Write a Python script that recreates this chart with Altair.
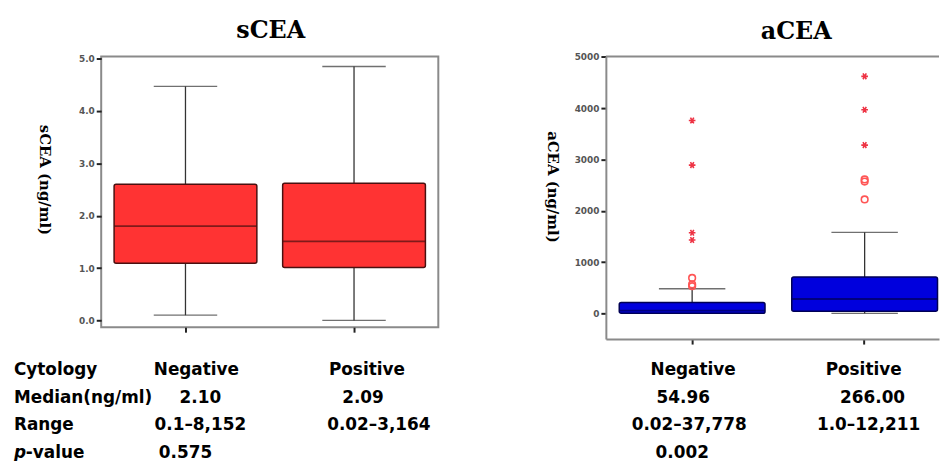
import altair as alt
import pandas as pd

# ---------------- data ----------------
cats = ["Negative", "Positive"]

# sCEA box statistics (ng/ml)
s_lo = [0.10, 0.00]
s_q1 = [1.09, 1.01]
s_med = [1.80, 1.51]
s_q3 = [2.60, 2.62]
s_hi = [4.47, 4.85]

# aCEA box statistics (ng/ml)
a_lo = [0, 0]
a_q1 = [0, 40]
a_med = [55, 280]
a_q3 = [210, 710]
a_hi = [480, 1580]

# aCEA outliers
a_circle_cat = ["Negative", "Negative", "Negative", "Positive", "Positive", "Positive"]
a_circle_val = [690, 565, 530, 2610, 2570, 2220]
a_star_cat = ["Negative", "Negative", "Negative", "Negative", "Positive", "Positive", "Positive"]
a_star_val = [3760, 2890, 1570, 1430, 4620, 3970, 3280]

# table texts
row_labels = ["Cytology", "Median(ng/ml)", "Range", "p", "-value"]
s_median_txt = ["2.10", "2.09"]
s_range_txt = ["0.1\u20138,152", "0.02\u20133,164"]
s_p_txt = "0.575"
a_median_txt = ["54.96", "266.00"]
a_range_txt = ["0.02\u201337,778", "1.0\u201312,211"]
a_p_txt = "0.002"

s_ticks = [0, 1, 2, 3, 4, 5]
a_ticks = [0, 1000, 2000, 3000, 4000, 5000]

TFONT = "DejaVu Sans"
TSIZE = 17


def cell(x_enc, txt, cat, y_px, dx=0, align="center", italic=False):
    df = pd.DataFrame({"cat": [cat], "t": [txt]})
    kw = dict(font=TFONT, fontSize=TSIZE, fontWeight="bold", align=align,
              baseline="middle", dx=dx, color="black")
    if italic:
        kw["fontStyle"] = "italic"
    return alt.Chart(df).mark_text(**kw).encode(x=x_enc, y=alt.value(y_px), text="t:N")


def panel(title, title_x, title_dy, ytitle, ytitle_x, ytitle_y, lo, q1, med, q3, hi,
          fill, edge, ydomain, yticks, yfmt, xscale, band, cap, frame_full):
    df = pd.DataFrame(dict(cat=cats, lo=lo, q1=q1, med=med, q3=q3, hi=hi))
    base = alt.Chart(df)
    xaxis = alt.Axis(labels=False, title=None, ticks=True, tickSize=5,
                     tickColor="#222", tickWidth=2, grid=False,
                     domain=not frame_full, domainColor="#8a8a8a", domainWidth=2)
    x = alt.X("cat:N", scale=xscale, axis=xaxis)
    yscale = alt.Scale(domain=ydomain, nice=False, zero=False)
    yaxis = alt.Axis(values=yticks, format=yfmt, title=ytitle, titleAngle=90,
                     titleFont="DejaVu Serif", titleFontSize=15, titleFontWeight="bold",
                     titleColor="black", titleX=ytitle_x, titleY=ytitle_y,
                     titleAlign="center", titleBaseline="middle",
                     labelFont="DejaVu Sans", labelFontSize=9, labelFontWeight="bold",
                     labelColor="#555", labelPadding=2, tickSize=5, tickColor="#222",
                     tickWidth=2, grid=False, domain=not frame_full,
                     domainColor="#8a8a8a", domainWidth=2)
    whisk = base.mark_rule(color="#333", strokeWidth=1.3).encode(
        x=x, y=alt.Y("lo:Q", scale=yscale, axis=yaxis), y2="hi:Q")
    caps_lo = base.mark_tick(color="#333", thickness=1.3, size=cap).encode(
        x=x, y=alt.Y("lo:Q", scale=yscale, axis=yaxis))
    caps_hi = base.mark_tick(color="#333", thickness=1.3, size=cap).encode(
        x=x, y=alt.Y("hi:Q", scale=yscale, axis=yaxis))
    box = base.mark_bar(color=fill, stroke=edge, strokeWidth=1.5, cornerRadius=2).encode(
        x=x, y=alt.Y("q1:Q", scale=yscale, axis=yaxis), y2="q3:Q")
    median = base.mark_tick(color=edge, thickness=1.8, size=band).encode(
        x=x, y=alt.Y("med:Q", scale=yscale, axis=yaxis))
    ttl = alt.Chart(pd.DataFrame({"t": [title]})).mark_text(
        font="DejaVu Serif", fontSize=24, fontWeight="bold", align="center",
        baseline="middle", color="black").encode(
        x=alt.value(title_x), y=alt.value(title_dy), text="t:N")
    layers = [whisk, caps_lo, caps_hi, box, median, ttl]
    return layers, x, yscale


# ---------------- left panel (sCEA) ----------------
L_W, L_H = 340, 273
l_xscale = alt.Scale(paddingInner=0.153, paddingOuter=0.0765)
l_layers, lx, _ = panel("sCEA", 171, -26, "sCEA (ng/ml)", -57, 124,
                        s_lo, s_q1, s_med, s_q3, s_hi, "#ff3333", "#4a1010",
                        [-0.13, 5.04], s_ticks, ".1f", l_xscale, 144, 64, True)
ly0 = 316
l_layers += [
    cell(alt.value(-88), row_labels[0], cats[0], ly0, align="left"),
    cell(alt.value(-88), row_labels[1], cats[0], ly0 + 28, align="left"),
    cell(alt.value(-88), row_labels[2], cats[0], ly0 + 56, align="left"),
    cell(alt.value(-88), row_labels[3], cats[0], ly0 + 84, align="left", italic=True),
    cell(alt.value(-76), row_labels[4], cats[0], ly0 + 84, align="left"),
    cell(lx, cats[0], cats[0], ly0, dx=11),
    cell(lx, cats[1], cats[1], ly0, dx=13),
    cell(lx, s_median_txt[0], cats[0], ly0 + 28, dx=15),
    cell(lx, s_median_txt[1], cats[1], ly0 + 28, dx=9),
    cell(lx, s_range_txt[0], cats[0], ly0 + 56, dx=15),
    cell(lx, s_range_txt[1], cats[1], ly0 + 56, dx=25),
    cell(lx, s_p_txt, cats[0], ly0 + 84, dx=0),
]
left = alt.layer(*l_layers).properties(
    width=L_W, height=L_H,
    view=alt.ViewBackground(stroke="#8a8a8a", strokeWidth=2))

# ---------------- right panel (aCEA) ----------------
R_W, R_H = 336, 285
r_xscale = alt.Scale(paddingInner=0.155, paddingOuter=0.0431, align=0.9)
r_layers, rx, r_yscale = panel("aCEA", 192, -25, "aCEA (ng/ml)", -54, 131,
                               a_lo, a_q1, a_med, a_q3, a_hi, "#0000dd", "#000055",
                               [-502, 5006], a_ticks, "d", r_xscale, 147, 67, False)
odf_c = pd.DataFrame({"cat": a_circle_cat, "v": a_circle_val})
odf_s = pd.DataFrame({"cat": a_star_cat, "v": a_star_val})
star = "M-1,0L1,0M-0.5,-0.87L0.5,0.87M-0.5,0.87L0.5,-0.87"
circles = alt.Chart(odf_c).mark_point(shape="circle", filled=False, color="#ff5555",
                                      size=45, strokeWidth=1.6, opacity=1).encode(
    x=rx, y=alt.Y("v:Q", scale=r_yscale))
stars = alt.Chart(odf_s).mark_point(shape=star, filled=False, color="#ee3344",
                                    size=45, strokeWidth=1.6, opacity=1).encode(
    x=rx, y=alt.Y("v:Q", scale=r_yscale))
top_line = alt.Chart(pd.DataFrame({"a": [0]})).mark_rule(color="#8a8a8a", strokeWidth=2).encode(
    x=alt.value(0), x2=alt.value(R_W), y=alt.value(0))
ry0 = 316
r_layers += [
    circles, stars, top_line,
    cell(rx, cats[0], cats[0], ry0, dx=1),
    cell(rx, cats[1], cats[1], ry0, dx=-1),
    cell(rx, a_median_txt[0], cats[0], ry0 + 28, dx=-9),
    cell(rx, a_median_txt[1], cats[1], ry0 + 28, dx=8),
    cell(rx, a_range_txt[0], cats[0], ry0 + 56, dx=-3),
    cell(rx, a_range_txt[1], cats[1], ry0 + 56, dx=4),
    cell(rx, a_p_txt, cats[0], ry0 + 84, dx=-10),
]
right = alt.layer(*r_layers).properties(
    width=R_W, height=R_H,
    view=alt.ViewBackground(stroke=None))

chart = alt.hconcat(left, right, spacing=106).properties(
    padding={"left": 5, "top": 8, "right": 0, "bottom": 0}
).configure_view(strokeWidth=0).configure_concat(spacing=106)

chart.save("out.html", embed_options={"renderer": "svg", "actions": False})
